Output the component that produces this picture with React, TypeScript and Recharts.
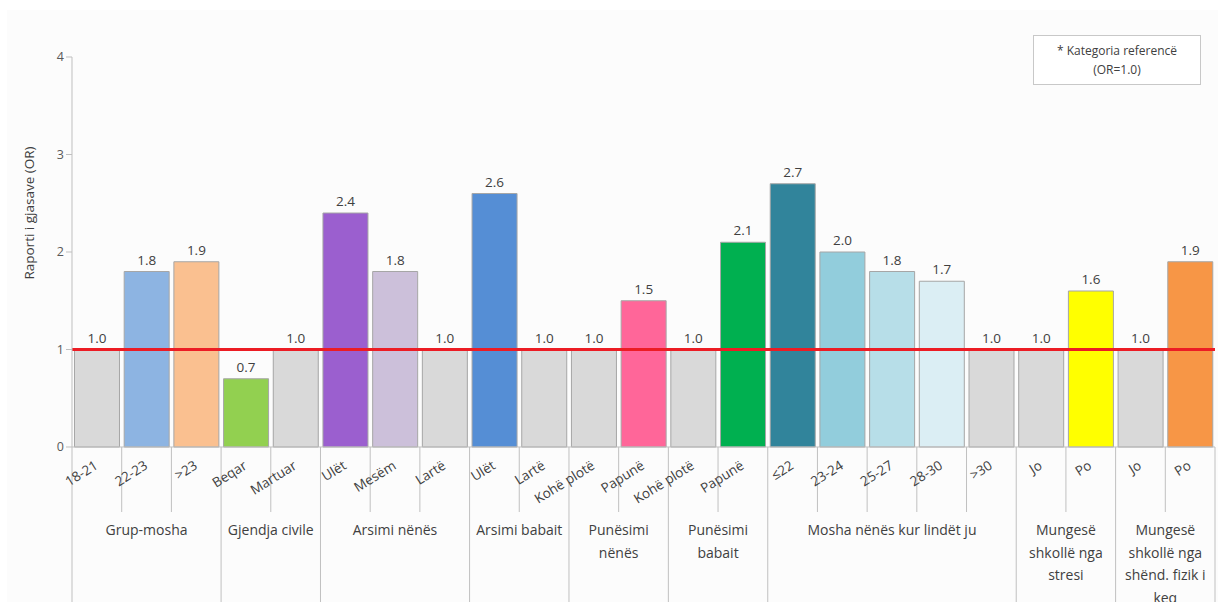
import React from 'react'
import { BarChart, Bar, XAxis, YAxis, Cell, LabelList, ReferenceLine } from 'recharts'

const categories = [
  '18-21', '22-23', '>23',
  'Beqar', 'Martuar',
  'Ulët', 'Mesëm', 'Lartë',
  'Ulët', 'Lartë',
  'Kohë plotë', 'Papunë',
  'Kohë plotë', 'Papunë',
  '≤22', '23-24', '25-27', '28-30', '>30',
  'Jo', 'Po',
  'Jo', 'Po',
]

const orValues = [
  1.0, 1.8, 1.9,
  0.7, 1.0,
  2.4, 1.8, 1.0,
  2.6, 1.0,
  1.0, 1.5,
  1.0, 2.1,
  2.7, 2.0, 1.8, 1.7, 1.0,
  1.0, 1.6,
  1.0, 1.9,
]

const barColors = [
  '#d9d9d9', '#8db4e2', '#fac090',
  '#92d050', '#d9d9d9',
  '#9b5fcf', '#ccc0da', '#d9d9d9',
  '#558ed5', '#d9d9d9',
  '#d9d9d9', '#ff6699',
  '#d9d9d9', '#00b050',
  '#31849b', '#92cddc', '#b7dee8', '#dbeef4', '#d9d9d9',
  '#d9d9d9', '#ffff00',
  '#d9d9d9', '#f79646',
]

const groupLabels = [
  ['Grup-mosha'],
  ['Gjendja civile'],
  ['Arsimi nënës'],
  ['Arsimi babait'],
  ['Punësimi', 'nënës'],
  ['Punësimi', 'babait'],
  ['Mosha nënës kur lindët ju'],
  ['Mungesë', 'shkollë nga', 'stresi'],
  ['Mungesë', 'shkollë nga', 'shënd. fizik i', 'keq'],
]
const groupSizes = [3, 2, 3, 2, 2, 2, 5, 2, 2]

const yTicks = [0, 1, 2, 3, 4]

const data = categories.map((c, i) => ({ name: c, or: orValues[i] }))

const FONT = '"Open Sans", "Noto Sans", sans-serif'
const W = 1218
const H = 602

// index of first category in each group
const groupStarts: number[] = []
groupSizes.reduce((acc, n) => { groupStarts.push(acc); return acc + n }, 0)

const CategoryTick = (props: any) => {
  const { x, y, index, payload } = props
  const off = payload?.offset ?? 24.85
  const left = x - off
  const g = groupStarts.indexOf(index)
  const isStart = g >= 0
  const isLast = index === categories.length - 1
  return (
    <g>
      <line x1={left} y1={y} x2={left} y2={isStart ? H : y + 65} stroke="#c0c0c0" />
      {isLast && <line x1={x + off} y1={y} x2={x + off} y2={H} stroke="#c0c0c0" />}
      <text
        x={x + 2}
        y={y + 21}
        textAnchor="end"
        transform={`rotate(-32 ${x + 2} ${y + 21})`}
        fontSize={13.5}
        fill="#404040"
        fontFamily={FONT}
      >
        {payload.value}
      </text>
      {isStart && (
        <text x={left + groupSizes[g] * off} y={y + 88} textAnchor="middle" fontSize={14} fill="#404040" fontFamily={FONT}>
          {groupLabels[g].map((ln, k) => (
            <tspan key={k} x={left + groupSizes[g] * off} dy={k === 0 ? 0 : 22.5}>{ln}</tspan>
          ))}
        </text>
      )}
    </g>
  )
}

const YTitle = () => (
  <text x={34} y={213} transform="rotate(-90 34 213)" textAnchor="middle" fontSize={13.5} fill="#404040" fontFamily={FONT}>
    Raporti i gjasave (OR)
  </text>
)

export default function App() {
  return (
    <div style={{ position: 'absolute', left: 0, top: 0, width: W, height: H, background: '#fff' }}>
      <div style={{ position: 'absolute', left: 7, top: 10, right: 0, bottom: 0, background: '#fcfcfc' }} />
      <div style={{ position: 'absolute', left: 0, top: 0 }}>
        <BarChart width={W} height={H} data={data} margin={{ top: 57, right: 3, bottom: 0, left: 0 }} barCategoryGap="5%">
          <YAxis
            width={72}
            domain={[0, 4]}
            ticks={yTicks}
            interval={0}
            tickSize={6}
            stroke="#bfbfbf"
            tick={{ fontSize: 12.5, fill: '#595959', fontFamily: FONT }}
            label={<YTitle />}
          />
          <XAxis
            dataKey="name"
            height={155}
            interval={0}
            tickSize={0}
            tickMargin={0}
            stroke="#bfbfbf"
            tick={<CategoryTick />}
          />
          <Bar dataKey="or" isAnimationActive={false} stroke="#a6a6a6" strokeWidth={1}>
            {data.map((d, i) => <Cell key={i} fill={barColors[i]} />)}
            <LabelList
              dataKey="or"
              position="top"
              offset={7}
              formatter={(v: any) => Number(v).toFixed(1)}
              style={{ fontSize: 13.5, fill: '#404040', fontFamily: FONT }}
            />
          </Bar>
          <ReferenceLine y={1} stroke="#ec1c24" strokeWidth={3} />
        </BarChart>
      </div>
      <div
        style={{
          position: 'absolute', left: 1033, top: 35, width: 168, height: 50,
          border: '1px solid #c8c8c8', background: '#fff', boxSizing: 'border-box',
          fontFamily: FONT, fontSize: 12, color: '#404040', textAlign: 'center',
          lineHeight: '19px', paddingTop: 5,
        }}
      >
        * Kategoria referencë<br />(OR=1.0)
      </div>
    </div>
  )
}
